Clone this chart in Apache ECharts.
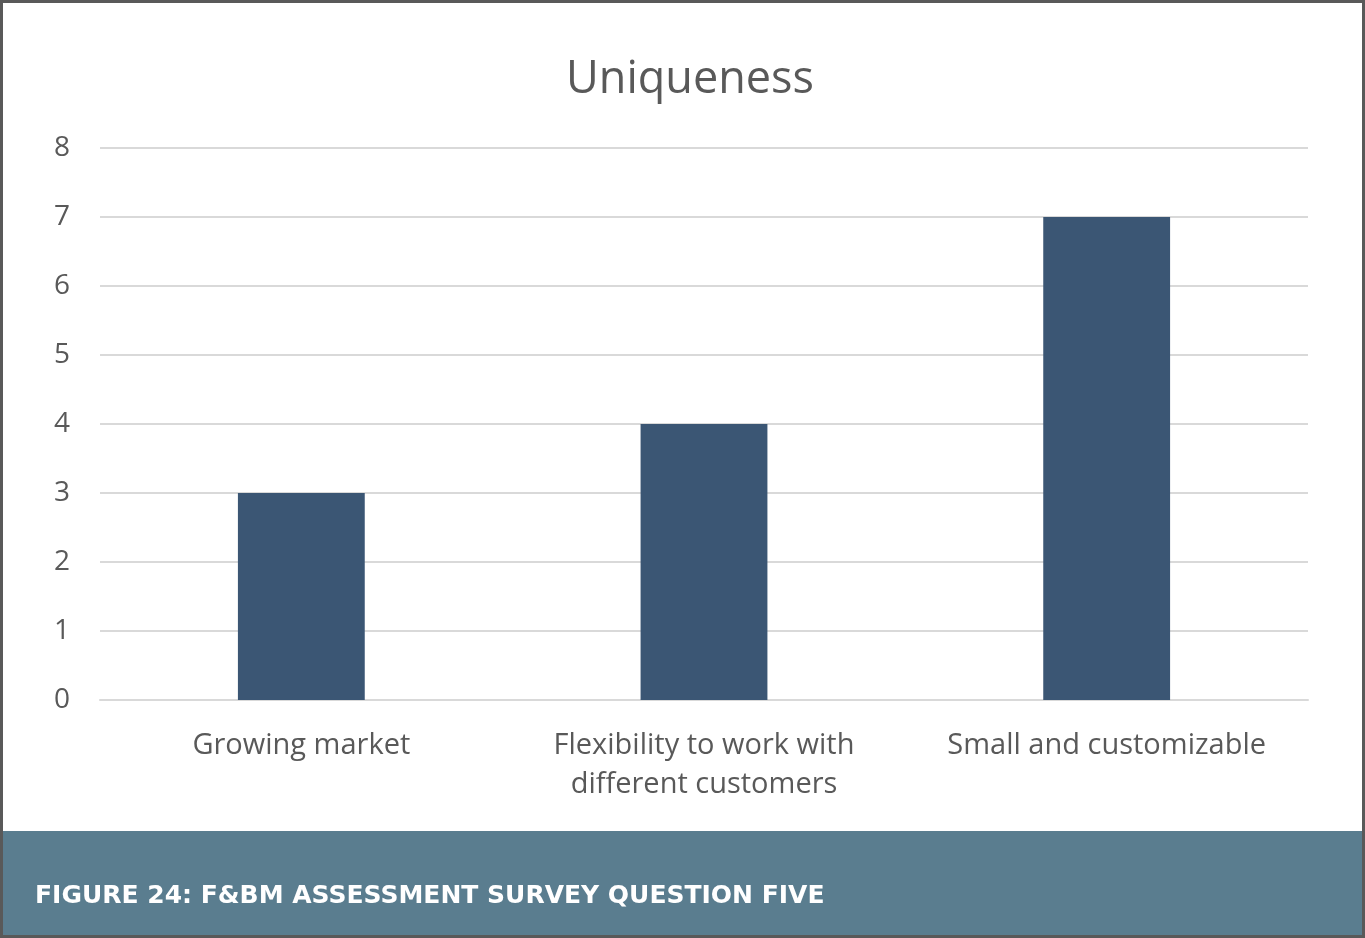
<!DOCTYPE html>
<html>
<head>
<meta charset="utf-8">
<script src="https://cdn.jsdelivr.net/npm/echarts@6/dist/echarts.min.js"></script>
<style>
html,body{margin:0;padding:0;background:#fff;overflow:hidden;}
#chart{width:1365px;height:938px;}
</style>
</head>
<body>
<div id="chart"></div>
<script>
const titleText = 'Uniqueness';
const categories = ['Growing market', 'Flexibility to work with\ndifferent customers', 'Small and customizable'];
const values = [3, 4, 7];
const yTicks = [0, 1, 2, 3, 4, 5, 6, 7, 8];
const caption = 'FIGURE 24: F&BM ASSESSMENT SURVEY QUESTION FIVE';

const chart = echarts.init(document.getElementById('chart'), null, {renderer: 'canvas'});
chart.setOption({
  backgroundColor: '#ffffff',
  animation: false,
  title: {
    text: titleText,
    left: 685, top: 53, textAlign: 'center',
    textStyle: {fontFamily: 'Open Sans', fontWeight: 'normal', fontSize: 45, color: '#595959'}
  },
  grid: {left: 100, right: 57, top: 148, bottom: 238, containLabel: false},
  xAxis: {
    type: 'category',
    data: categories,
    axisLine: {show: true, lineStyle: {color: '#d9d9d9', width: 2}},
    axisTick: {show: false},
    axisLabel: {interval: 0, fontFamily: 'Open Sans', fontSize: 29, color: '#595959', margin: 26, lineHeight: 39}
  },
  yAxis: {
    type: 'value',
    min: yTicks[0], max: yTicks[yTicks.length - 1], interval: 1,
    axisLine: {show: false}, axisTick: {show: false},
    splitLine: {lineStyle: {color: '#d9d9d9', width: 2}},
    axisLabel: {fontFamily: 'Open Sans', fontSize: 28, color: '#595959', margin: 30}
  },
  series: [{
    type: 'bar',
    data: values,
    barWidth: '31.5%',
    itemStyle: {color: '#3b5674'}
  }],
  graphic: [
    {type: 'rect', left: 0, top: 831, shape: {width: 1365, height: 107}, style: {fill: '#5a7d8f'}, z: 10},
    {type: 'text', left: 35, top: 884, style: {text: caption, fill: '#ffffff', font: 'bold 25px "DejaVu Sans"'}, z: 11},
    {type: 'rect', x: 1.5, y: 1.5, shape: {x: 0, y: 0, width: 1362, height: 935}, style: {fill: 'none', stroke: '#595959', lineWidth: 3}, z: 12}
  ]
});
</script>
</body>
</html>
